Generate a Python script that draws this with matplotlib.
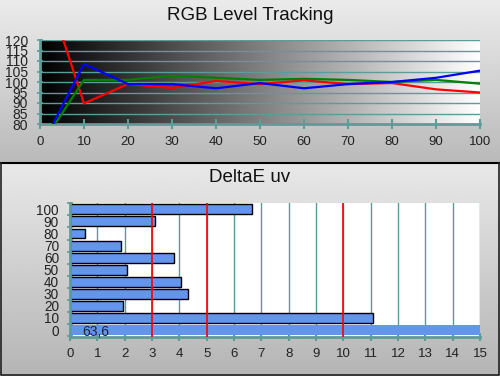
import numpy as np
import matplotlib
matplotlib.use("Agg")
import matplotlib.pyplot as plt

plt.rcParams['font.family'] = ['Liberation Sans', 'DejaVu Sans']

# ---- data ----
levels = [0, 10, 20, 30, 40, 50, 60, 70, 80, 90, 100]
red = [154, 89.8, 99, 97.2, 100.5, 99, 100.8, 99, 99.5, 96.5, 95]
green = [69, 101, 101, 103, 102, 101, 101.5, 101, 100, 101, 99.2]
blue = [68, 108.6, 99, 99, 97, 99.5, 97, 99, 100, 102, 105.4]

de_cats = ['0', '10', '20', '30', '40', '50', '60', '70', '80', '90', '100']
de_vals = [63.6, 11.1, 1.95, 4.3, 4.05, 2.1, 3.8, 1.85, 0.55, 3.1, 6.65]
de_label = "63,6"
ref_lines = [3, 5, 10]

teal = '#5e9c97'
W, H = 500, 376
fig = plt.figure(figsize=(W / 100, H / 100), dpi=100)

# background panels
bg = fig.add_axes([0, 0, 1, 1], zorder=-10)
bg.axis('off')
g1 = np.linspace(0.92, 0.73, 100).reshape(-1, 1)
bg.imshow(g1, cmap='gray', vmin=0, vmax=1, extent=[0, W, 162, 0], aspect='auto')
g2 = np.linspace(0.91, 0.71, 100).reshape(-1, 1)
bg.imshow(g2, cmap='gray', vmin=0, vmax=1, extent=[0, W, H, 164], aspect='auto')
bg.plot([0, W], [163, 163], color='black', lw=1.5)
bg.plot([1, 1, W - 1.5, W - 1.5], [163, H - 1.5, H - 1.5, 163], color='#222222', lw=1.2)
bg.set_xlim(0, W)
bg.set_ylim(H, 0)

fig.text(0.5, 1 - 15 / H, "RGB Level Tracking", ha='center', va='center', fontsize=13.5, color='#111111')
fig.text(0.5, 1 - 177 / H, "DeltaE uv", ha='center', va='center', fontsize=13.5, color='#111111')

# ---- top chart ----
ax1 = fig.add_axes([40 / W, 1 - 124 / H, 440 / W, 84 / H])
grad = np.linspace(0, 1, 256).reshape(1, -1)
ax1.imshow(grad, cmap='gray', vmin=0, vmax=1, extent=[0, 100, 80, 120], aspect='auto', zorder=0)
ax1.set_xlim(0, 100)
ax1.set_ylim(80, 120)
for yv in range(85, 121, 5):
    ax1.axhline(yv, color=teal, lw=1, zorder=1)
ax1.plot(levels, red, color='#ff0000', lw=1.6, zorder=3)
ax1.plot(levels, green, color='#008000', lw=1.6, zorder=3)
ax1.plot(levels, blue, color='#0000ff', lw=1.6, zorder=3)
ax1.set_xticks(levels)
ax1.set_yticks(range(80, 121, 5))
for s in ['top', 'right']:
    ax1.spines[s].set_visible(False)
for s in ['left', 'bottom']:
    ax1.spines[s].set_color(teal)
    ax1.spines[s].set_linewidth(2)
ax1.tick_params(axis='x', direction='inout', length=7, width=1.5, color=teal, pad=5,
                labelsize=9.5, labelcolor='#222222')
ax1.tick_params(axis='y', direction='inout', length=5, width=1.2, color=teal, pad=6,
                labelsize=10, labelcolor='#222222')

# ---- bottom chart ----
ax2 = fig.add_axes([70 / W, 1 - 336.7 / H, 410 / W, 134 / H])
ax2.set_facecolor('white')
ax2.set_xlim(0, 15)
ax2.set_ylim(-0.55, 10.55)
for xv in range(1, 16):
    ax2.axvline(xv, color=teal, lw=1, zorder=1)
for xv in ref_lines:
    ax2.axvline(xv, color='#ff0000', lw=1.2, zorder=3)
ypos = np.arange(len(de_cats))
edges = ['none'] + ['black'] * (len(de_cats) - 1)
ax2.barh(ypos, de_vals, height=0.82, color='#6495ed', edgecolor=edges, linewidth=1, zorder=2)
ax2.text(0.45, -0.2, de_label, ha='left', va='center', fontsize=10, color='#222233', zorder=4)
ax2.set_yticks(ypos)
ax2.set_yticklabels(de_cats)
ax2.set_yticks(np.arange(-0.5, 10.6, 1), minor=True)
ax2.set_xticks(range(0, 16))
for s in ['top', 'right']:
    ax2.spines[s].set_visible(False)
for s in ['left', 'bottom']:
    ax2.spines[s].set_color(teal)
    ax2.spines[s].set_linewidth(2)
ax2.tick_params(axis='x', direction='inout', length=6, width=1.5, color=teal, pad=5,
                labelsize=9.5, labelcolor='#222222')
ax2.tick_params(axis='y', which='major', length=0, pad=8, labelsize=9.8, labelcolor='#222222')
ax2.tick_params(axis='y', which='minor', direction='inout', length=5, width=1.2, color=teal)

fig.savefig('out.png', dpi=100)
